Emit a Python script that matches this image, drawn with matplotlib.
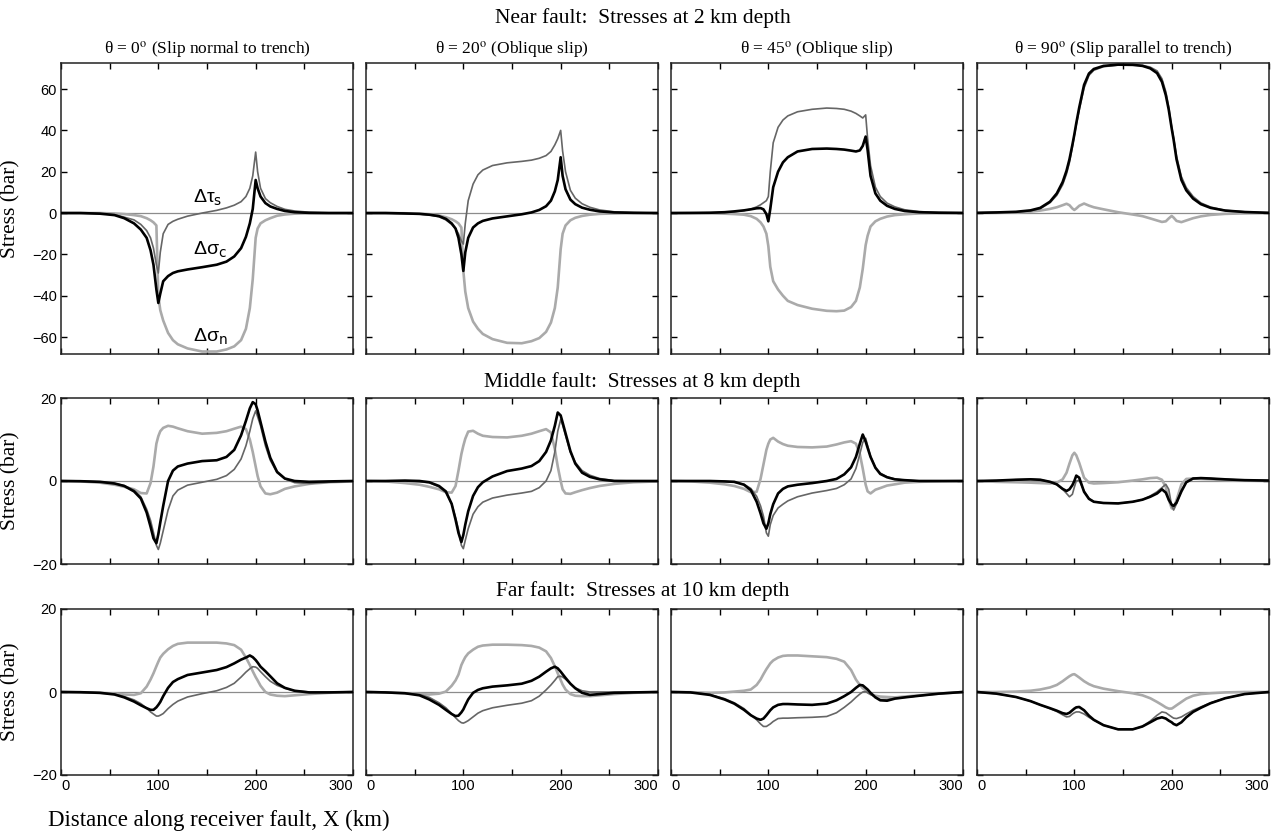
import numpy as np
import matplotlib
matplotlib.use('Agg')
import matplotlib.pyplot as plt

# distance along receiver fault (km), shared by every panel
X = [0, 20, 40, 55, 65, 75, 82, 88, 92, 95,
     98, 100, 102, 105, 110, 115, 120, 130, 145, 160,
     170, 178, 185, 190, 194, 197, 200, 202, 205, 210,
     215, 222, 230, 240, 255, 275, 300]

# ---- near fault, 2 km depth ----
sc_near_0 = [0, 0, -0.3, -1, -2.5, -5, -8, -12, -18, -25,
             -37, -43.5, -39, -33, -30.5, -29, -28.2, -27.3, -26.2, -25,
             -23.5, -21, -17, -11.5, -5, 2, 16, 12, 8, 4.8,
             3.2, 2, 1, 0.4, 0.1, 0, 0]
ts_near_0 = [0, 0, -0.3, -0.8, -2, -3.3, -5.5, -8.5, -12, -17,
             -25, -29, -19, -10, -5.5, -4, -3, -1.5, 0, 1.3,
             2.5, 3.8, 5.5, 8, 12, 18, 29.5, 20, 12, 7,
             5, 3.2, 1.8, 1, 0.4, 0.1, 0]
sn_near_0 = [0, 0, 0, -0.2, -0.5, -1, -1.5, -2.5, -3.5, -4.5,
             -6, -40, -47, -52, -58, -61.5, -63.5, -65.5, -67, -67,
             -66, -64.5, -61.5, -56, -46, -32, -12, -7.5, -5, -3.5,
             -2.5, -1.3, -0.7, -0.3, -0.1, 0, 0]

sc_near_20 = [0, 0, -0.2, -0.4, -0.8, -1.5, -2.8, -5, -7.5, -12,
              -20, -28, -19, -12, -7, -5, -3.8, -2.6, -1.6, -0.6,
              0.3, 1.5, 3.3, 6, 10.5, 16, 27, 18, 11.5, 6.5,
              4.3, 2.6, 1.6, 0.8, 0.3, 0.1, 0]
ts_near_20 = [0, 0, -0.2, -0.5, -0.9, -1.8, -3.3, -5.5, -7.5, -10,
              -13.5, -15, -5, 6, 14, 18.5, 20.8, 23, 24.3, 25,
              25.6, 26.5, 27.8, 29.8, 33, 36, 40, 30, 20, 11,
              7.2, 4.5, 2.8, 1.5, 0.6, 0.2, 0]
sn_near_20 = [0, 0, -0.1, -0.3, -0.6, -1.2, -2, -3, -4, -5,
              -7, -28, -38, -46, -52.5, -56, -58.5, -61, -62.8, -63,
              -62, -60.5, -57.5, -53, -46, -36, -17.5, -10, -6, -3.5,
              -2.3, -1.4, -0.8, -0.4, -0.2, 0, 0]

sc_near_45 = [0, 0.05, 0.15, 0.4, 0.8, 1.3, 1.8, 2.3, 2.4, 1.8,
              -0.5, -4, 2, 12.5, 20, 24.5, 27, 29.8, 31, 31.2,
              31, 30.7, 30.2, 29.8, 30.3, 32.5, 37, 30.5, 18, 9.5,
              6, 3.5, 2, 1, 0.4, 0.15, 0.05]
ts_near_45 = [0, 0.05, 0.15, 0.3, 0.6, 1.2, 1.9, 3, 4, 5,
              6, 8, 20, 34, 41.5, 45, 47, 49, 50.2, 50.8,
              50.6, 50.2, 49.3, 48.2, 47, 46, 47.5, 36, 23, 12.5,
              8, 4.8, 3, 1.6, 0.7, 0.3, 0.1]
sn_near_45 = [0, 0, -0.1, -0.3, -0.5, -0.8, -1.5, -2.8, -4.5, -6.5,
              -10, -16, -26, -33, -37, -40, -42.5, -44.5, -46.3, -47.3,
              -47.5, -47.2, -45.5, -42.5, -36, -27, -15.5, -11, -6.5, -4,
              -2.8, -1.7, -1, -0.6, -0.2, -0.05, 0]

sc_near_90 = [0.1, 0.3, 0.6, 1.3, 2.5, 5.5, 9.5, 15, 20.5, 26,
              33, 38, 43.5, 51, 62, 67.5, 69.7, 71.2, 71.8, 71.7,
              71.2, 70, 67.7, 63.5, 57, 50, 41, 35.5, 26, 16,
              11, 7, 4.3, 2.5, 1.2, 0.5, 0.1]
ts_near_90 = [0.1, 0.3, 0.5, 1.1, 2.1, 5, 8.6, 13.7, 19, 24.5,
              32, 37.5, 42.6, 49.8, 60.5, 66.6, 69.1, 70.8, 71.6, 71.8,
              71.5, 70.6, 68.8, 65, 58.7, 51.2, 41.6, 36.4, 27.5, 17.6,
              12.3, 8, 4.9, 2.9, 1.3, 0.6, 0.1]
sn_near_90 = [0, 0.1, 0.3, 0.7, 1.2, 2, 2.8, 3.8, 4.5, 3.8,
              2.2, 1.5, 2.2, 3.5, 4.6, 3.6, 2.8, 1.8, 0.4, -0.7,
              -1.5, -2.6, -3.6, -4.3, -4, -2.6, -1.4, -2.2, -3.8, -4.4,
              -3.6, -2.5, -1.6, -0.9, -0.4, -0.15, 0]

# ---- middle fault, 8 km depth ----
sc_mid_0 = [0, -0.05, -0.2, -0.6, -1.2, -2.5, -4.2, -7.6, -11, -13.8,
            -15, -12.8, -10, -6, 0, 2.5, 3.5, 4.2, 4.8, 5,
            5.8, 7.5, 11, 14.5, 17.5, 19, 18.5, 17, 14.2, 9.5,
            5.6, 2.2, 0.6, 0, -0.2, -0.1, 0]
ts_mid_0 = [0, -0.05, -0.2, -0.6, -1.1, -2.2, -3.8, -6.8, -9.5, -12.4,
            -15.5, -16.5, -15, -12, -7, -3.6, -2.2, -1, -0.3, 0.4,
            1.3, 2.8, 5.3, 8.5, 12, 15, 16.9, 15.5, 13.3, 8.5,
            5, 2, 0.5, -0.4, -0.6, -0.3, 0]
sn_mid_0 = [0, -0.1, -0.4, -0.9, -1.4, -2, -2.9, -3, -0.5, 3.5,
            9, 10.8, 12, 12.8, 13.3, 13.1, 12.7, 12, 11.4, 11.6,
            12, 12.6, 13.1, 12.5, 10, 7, 3.5, 1.2, -1.3, -3,
            -3.2, -2.8, -1.9, -1.3, -0.7, -0.3, -0.1]

sc_mid_20 = [0, 0, 0.1, 0, -0.3, -1.2, -2.5, -5.5, -9.3, -12.5,
             -14.7, -13, -10.5, -7.3, -3.6, -1.5, -0.3, 1.1, 2.4, 3,
             3.6, 4.8, 7, 9.8, 13.3, 16.5, 15.8, 14.1, 11.5, 7.2,
             4.2, 2, 1, 0.4, 0, 0, 0]
ts_mid_20 = [0, 0, 0, -0.2, -0.4, -1.4, -2.8, -5.5, -8.8, -11.7,
             -15.5, -16.3, -14.3, -11.5, -8, -6.2, -5.1, -4.1, -3.4, -2.9,
             -2.5, -1.6, 0, 2.5, 7, 12, 14.8, 13.5, 11, 6.9,
             4.5, 2.5, 1.4, 0.6, 0.1, 0, 0]
sn_mid_20 = [0, -0.1, -0.5, -0.9, -1.4, -2, -2.7, -2.8, -1.2, 2.5,
             6.5, 8.5, 10.2, 11.9, 12.1, 11.4, 10.9, 10.6, 10.5, 10.9,
             11.4, 12, 12.5, 11.7, 7.7, 3.5, 0, -2, -3, -3.1,
             -2.7, -2.2, -1.7, -1.2, -0.7, -0.3, -0.1]

sc_mid_45 = [0, 0, 0, -0.1, -0.2, -0.9, -2.2, -5, -7.8, -10.2,
             -11.5, -10.2, -8, -5.6, -3, -1.9, -1.3, -0.9, -0.5, 0,
             0.5, 1.6, 3.3, 5.8, 9, 11.2, 9.5, 8, 5.8, 3.2,
             1.7, 0.9, 0.4, 0.2, 0, 0, 0]
ts_mid_45 = [0, 0, 0, -0.1, -0.3, -0.8, -1.8, -3.7, -6, -8.5,
             -12.5, -13.3, -10.5, -8.3, -6.5, -5.6, -4.8, -3.8, -2.9, -2.3,
             -1.8, -0.9, 0.5, 3, 6.5, 9.3, 10.3, 8.5, 6, 3.2,
             1.9, 1, 0.5, 0.2, 0, 0, 0]
sn_mid_45 = [0, -0.1, -0.4, -0.8, -1.2, -1.9, -2.7, -2.6, 0.5, 4,
             7.5, 9, 10, 10.4, 9.5, 8.9, 8.5, 8.2, 8.1, 8.3,
             8.8, 9.3, 9.6, 9, 6.5, 3, -0.9, -2.5, -3, -2.1,
             -1.7, -1.1, -0.8, -0.4, -0.2, -0.1, 0]

sc_mid_90 = [0, 0.1, 0.3, 0.4, 0.3, -0.2, -0.8, -1.9, -2.4, -2,
             -1, 0, 1.3, 0.8, -2.6, -4.3, -5, -5.3, -5.4, -5,
             -4.5, -3.8, -3, -2, -2.8, -4.5, -5.7, -6, -5.2, -2.5,
             -0.3, 0.6, 0.7, 0.6, 0.4, 0.2, 0.1]
ts_mid_90 = [0, 0.1, 0.3, 0.4, 0.3, -0.2, -0.9, -2, -3, -3.8,
             -3.2, -1.5, 0, 0.2, -2.4, -4.2, -5, -5.3, -5.4, -5,
             -4.5, -3.6, -2.6, -1.6, -0.8, -2, -6, -7, -5.5, -2.2,
             -0.3, 0.6, 0.7, 0.6, 0.4, 0.2, 0.1]
sn_mid_90 = [0, -0.2, -0.3, -0.4, -0.5, -0.6, -0.4, 0.4, 2, 4.2,
             6.2, 6.8, 6.2, 4.4, 0.8, -0.4, -0.6, -0.5, -0.3, 0.1,
             0.4, 0.7, 0.8, 0.3, -1.5, -4.5, -6.6, -6.5, -4.6, -0.8,
             0.5, 0.6, 0.5, 0.4, 0.2, 0.1, 0]

# ---- far fault, 10 km depth ----
sc_far_0 = [0, -0.05, -0.2, -0.6, -1.3, -2.3, -3.2, -3.9, -4.3, -4.3,
            -3.7, -3.1, -2.4, -1, 1, 2.4, 3.1, 4.1, 4.7, 5.3,
            6, 6.9, 7.8, 8.3, 8.8, 8.4, 7.7, 7.1, 6.1, 5,
            3.8, 2.1, 1, 0.3, -0.1, -0.1, 0]
ts_far_0 = [0, -0.05, -0.2, -0.5, -1.1, -1.9, -2.8, -3.9, -4.8, -5.3,
            -5.8, -5.8, -5.6, -5.2, -4, -3, -2.2, -1.2, -0.4, 0.3,
            1.1, 2.1, 3.6, 4.8, 5.6, 6.1, 6, 5.7, 4.9, 3.7,
            2.6, 1.6, 0.9, 0.3, 0, 0, 0]
sn_far_0 = [0, -0.1, -0.2, -0.4, -0.6, -0.7, -0.3, 1.3, 3, 4.5,
            6.2, 7.3, 8.3, 9.2, 10.3, 11.1, 11.6, 11.9, 11.9, 11.9,
            11.7, 11.3, 10.2, 8.3, 6.5, 5, 3.6, 2.8, 1.5, 0,
            -0.6, -0.9, -1, -0.8, -0.5, -0.2, 0]

sc_far_20 = [0, -0.1, -0.3, -0.8, -1.8, -3.1, -4.3, -5.3, -5.8, -5.7,
             -4.9, -4.2, -3.2, -1.8, -0.2, 0.5, 0.9, 1.3, 1.6, 2,
             2.7, 3.7, 4.9, 5.7, 6.1, 5.7, 4.9, 4.3, 3.4, 2,
             0.9, -0.2, -0.7, -0.5, -0.2, -0.1, 0]
ts_far_20 = [0, -0.1, -0.3, -0.6, -1.3, -2.6, -3.8, -5.2, -6.2, -6.9,
             -7.4, -7.5, -7.3, -6.9, -6, -5.1, -4.5, -3.8, -3.2, -2.7,
             -2.1, -1, 0.5, 1.7, 2.8, 3.7, 3.8, 3.6, 3.1, 2,
             1, 0.3, 0, 0, 0, 0, 0]
sn_far_20 = [0, -0.1, -0.3, -0.5, -0.6, -0.4, 0.1, 1.5, 2.8, 4.2,
             6.5, 7.5, 8.4, 9.3, 10.2, 10.9, 11.2, 11.4, 11.4, 11.3,
             11.1, 10.7, 9.8, 8.2, 6.2, 4.5, 2.9, 1.8, 0.6, -0.5,
             -0.9, -1, -1, -0.8, -0.5, -0.2, 0]

sc_far_45 = [0, -0.1, -0.7, -1.8, -2.8, -4.3, -5.6, -6.4, -6.7, -6.4,
             -5.6, -5, -4.4, -3.7, -3.1, -2.9, -2.9, -3, -3.1, -2.8,
             -2, -1, 0, 1, 1.7, 1.6, 1, 0.6, -0.2, -1.3,
             -2, -2.1, -1.6, -1.3, -0.9, -0.4, 0]
ts_far_45 = [0, -0.1, -0.6, -1.6, -2.6, -4, -5.5, -6.7, -7.7, -8.3,
             -8.3, -8, -7.7, -7.1, -6.4, -6.3, -6.3, -6.2, -6.1, -5.9,
             -5, -3.7, -2.4, -1.3, -0.5, 0, 0.1, -0.2, -0.6, -1.2,
             -1.8, -1.8, -1.5, -1.3, -0.9, -0.4, 0]
sn_far_45 = [0, -0.05, -0.2, -0.1, 0.1, 0.3, 0.6, 1.7, 3, 4.3,
             5.5, 6.2, 6.9, 7.6, 8.3, 8.7, 8.8, 8.8, 8.6, 8.4,
             8, 7.3, 5.3, 3, 1.7, 0.9, 0.4, 0, -0.5, -0.9,
             -1.1, -1.2, -1.3, -1.1, -0.8, -0.4, 0]

sc_far_90 = [0, -0.4, -1.2, -2.2, -3.1, -3.9, -4.5, -5.1, -5.3, -5,
             -4.4, -4, -3.7, -3.6, -4.4, -5.7, -6.7, -8, -9, -9,
             -8.3, -7.3, -6.4, -6.1, -6.4, -6.9, -7.3, -7.7, -8, -7.3,
             -6.1, -4.8, -3.8, -2.7, -1.5, -0.5, 0]
ts_far_90 = [0, -0.4, -1.2, -2.2, -3.1, -4, -4.7, -5.5, -6, -5.9,
             -5.3, -5, -4.8, -4.8, -5.3, -6.1, -6.8, -8, -9, -9,
             -8.3, -7, -5.6, -4.8, -5, -5.5, -6, -6.3, -6.4, -6,
             -5.3, -4.4, -3.6, -2.6, -1.5, -0.5, 0]
sn_far_90 = [0, 0, 0.1, 0.3, 0.6, 1.1, 1.7, 2.6, 3.3, 3.8,
             4.2, 4.3, 4, 3.5, 2.6, 1.9, 1.4, 0.8, 0.2, -0.3,
             -0.8, -1.5, -2.4, -3.1, -3.7, -4, -4, -3.7, -3.2, -2.4,
             -1.6, -0.9, -0.5, -0.3, -0.1, 0, 0]

col_titles = ['θ = 0$^{\\rm o}$ (Slip normal to trench)',
              'θ = 20$^{\\rm o}$ (Oblique slip)',
              'θ = 45$^{\\rm o}$ (Oblique slip)',
              'θ = 90$^{\\rm o}$ (Slip parallel to trench)']
row_titles = ['Near fault:  Stresses at 2 km depth',
              'Middle fault:  Stresses at 8 km depth',
              'Far fault:  Stresses at 10 km depth']

rows = [
    [(sn_near_0, ts_near_0, sc_near_0), (sn_near_20, ts_near_20, sc_near_20),
     (sn_near_45, ts_near_45, sc_near_45), (sn_near_90, ts_near_90, sc_near_90)],
    [(sn_mid_0, ts_mid_0, sc_mid_0), (sn_mid_20, ts_mid_20, sc_mid_20),
     (sn_mid_45, ts_mid_45, sc_mid_45), (sn_mid_90, ts_mid_90, sc_mid_90)],
    [(sn_far_0, ts_far_0, sc_far_0), (sn_far_20, ts_far_20, sc_far_20),
     (sn_far_45, ts_far_45, sc_far_45), (sn_far_90, ts_far_90, sc_far_90)],
]

serif = 'Liberation Serif'
sans = 'Liberation Sans'

fig = plt.figure(figsize=(12.85, 8.34), dpi=100)

lefts = [61, 366, 671, 977]
W, H = 1285.0, 834.0
row_box = [(63, 354), (398, 564), (609, 775)]
ylims = [(-68.2, 72.6), (-20, 20), (-20, 20)]
yticks = [[-60, -40, -20, 0, 20, 40, 60], [-20, 0, 20], [-20, 0, 20]]

axes = []
for r in range(3):
    top, bot = row_box[r]
    for c in range(4):
        ax = fig.add_axes([lefts[c] / W, 1 - bot / H, 292 / W, (bot - top) / H])
        sn, ts, sc = rows[r][c]
        ax.axhline(0, color='#8c8c8c', lw=0.9, zorder=1)
        ax.plot(X, sn, color='#aaaaaa', lw=1.9, zorder=2)
        ax.plot(X, ts, color='#666666', lw=1.2, zorder=3)
        ax.plot(X, sc, color='black', lw=1.9, zorder=4)
        ax.set_xlim(0, 300)
        ax.set_ylim(*ylims[r])
        ax.set_xticks([0, 50, 100, 150, 200, 250, 300])
        ax.set_yticks(yticks[r])
        ax.tick_params(direction='in', top=True, right=True, length=4,
                       width=1, labelsize=10.5, pad=3)
        for sp in ax.spines.values():
            sp.set_linewidth(1.1)
            sp.set_color('#222222')
        if r == 2:
            ax.set_xticklabels(['0', '', '100', '', '200', '', '300'])
            xl = ax.get_xticklabels()
            xl[0].set_ha('left')
            xl[-1].set_ha('right')
        else:
            ax.set_xticklabels([])
        if c == 0:
            ax.set_ylabel('Stress (bar)', family=serif, fontsize=15.5)
            ax.yaxis.set_label_coords(-0.14, 0.5)
        else:
            ax.set_yticklabels([])
        for lab in ax.get_xticklabels() + ax.get_yticklabels():
            lab.set_family(sans)
        if r == 0:
            ax.set_title(col_titles[c], family=serif, fontsize=12.5, pad=7,
                         math_fontfamily='stix')
        axes.append(ax)

# curve labels on the first panel
a0 = axes[0]
for yy, lab in [(7.5, 'Δτ$_{\\rm s}$'), (-18, 'Δσ$_{\\rm c}$'), (-60, 'Δσ$_{\\rm n}$')]:
    a0.text(136, yy, lab, fontsize=14, va='center', ha='left', family=sans,
            math_fontfamily='dejavusans', zorder=6)

fig.text(0.5, 1 - 18 / H, row_titles[0], ha='center', va='center', family=serif, fontsize=15.5)
fig.text(0.5, 1 - 382 / H, row_titles[1], ha='center', va='center', family=serif, fontsize=15.5)
fig.text(0.5, 1 - 591 / H, row_titles[2], ha='center', va='center', family=serif, fontsize=15.5)
fig.text(48 / W, 1 - 820 / H, 'Distance along receiver fault, X (km)', ha='left',
         va='center', family=serif, fontsize=16.5)

plt.savefig('out.png', dpi=100)
